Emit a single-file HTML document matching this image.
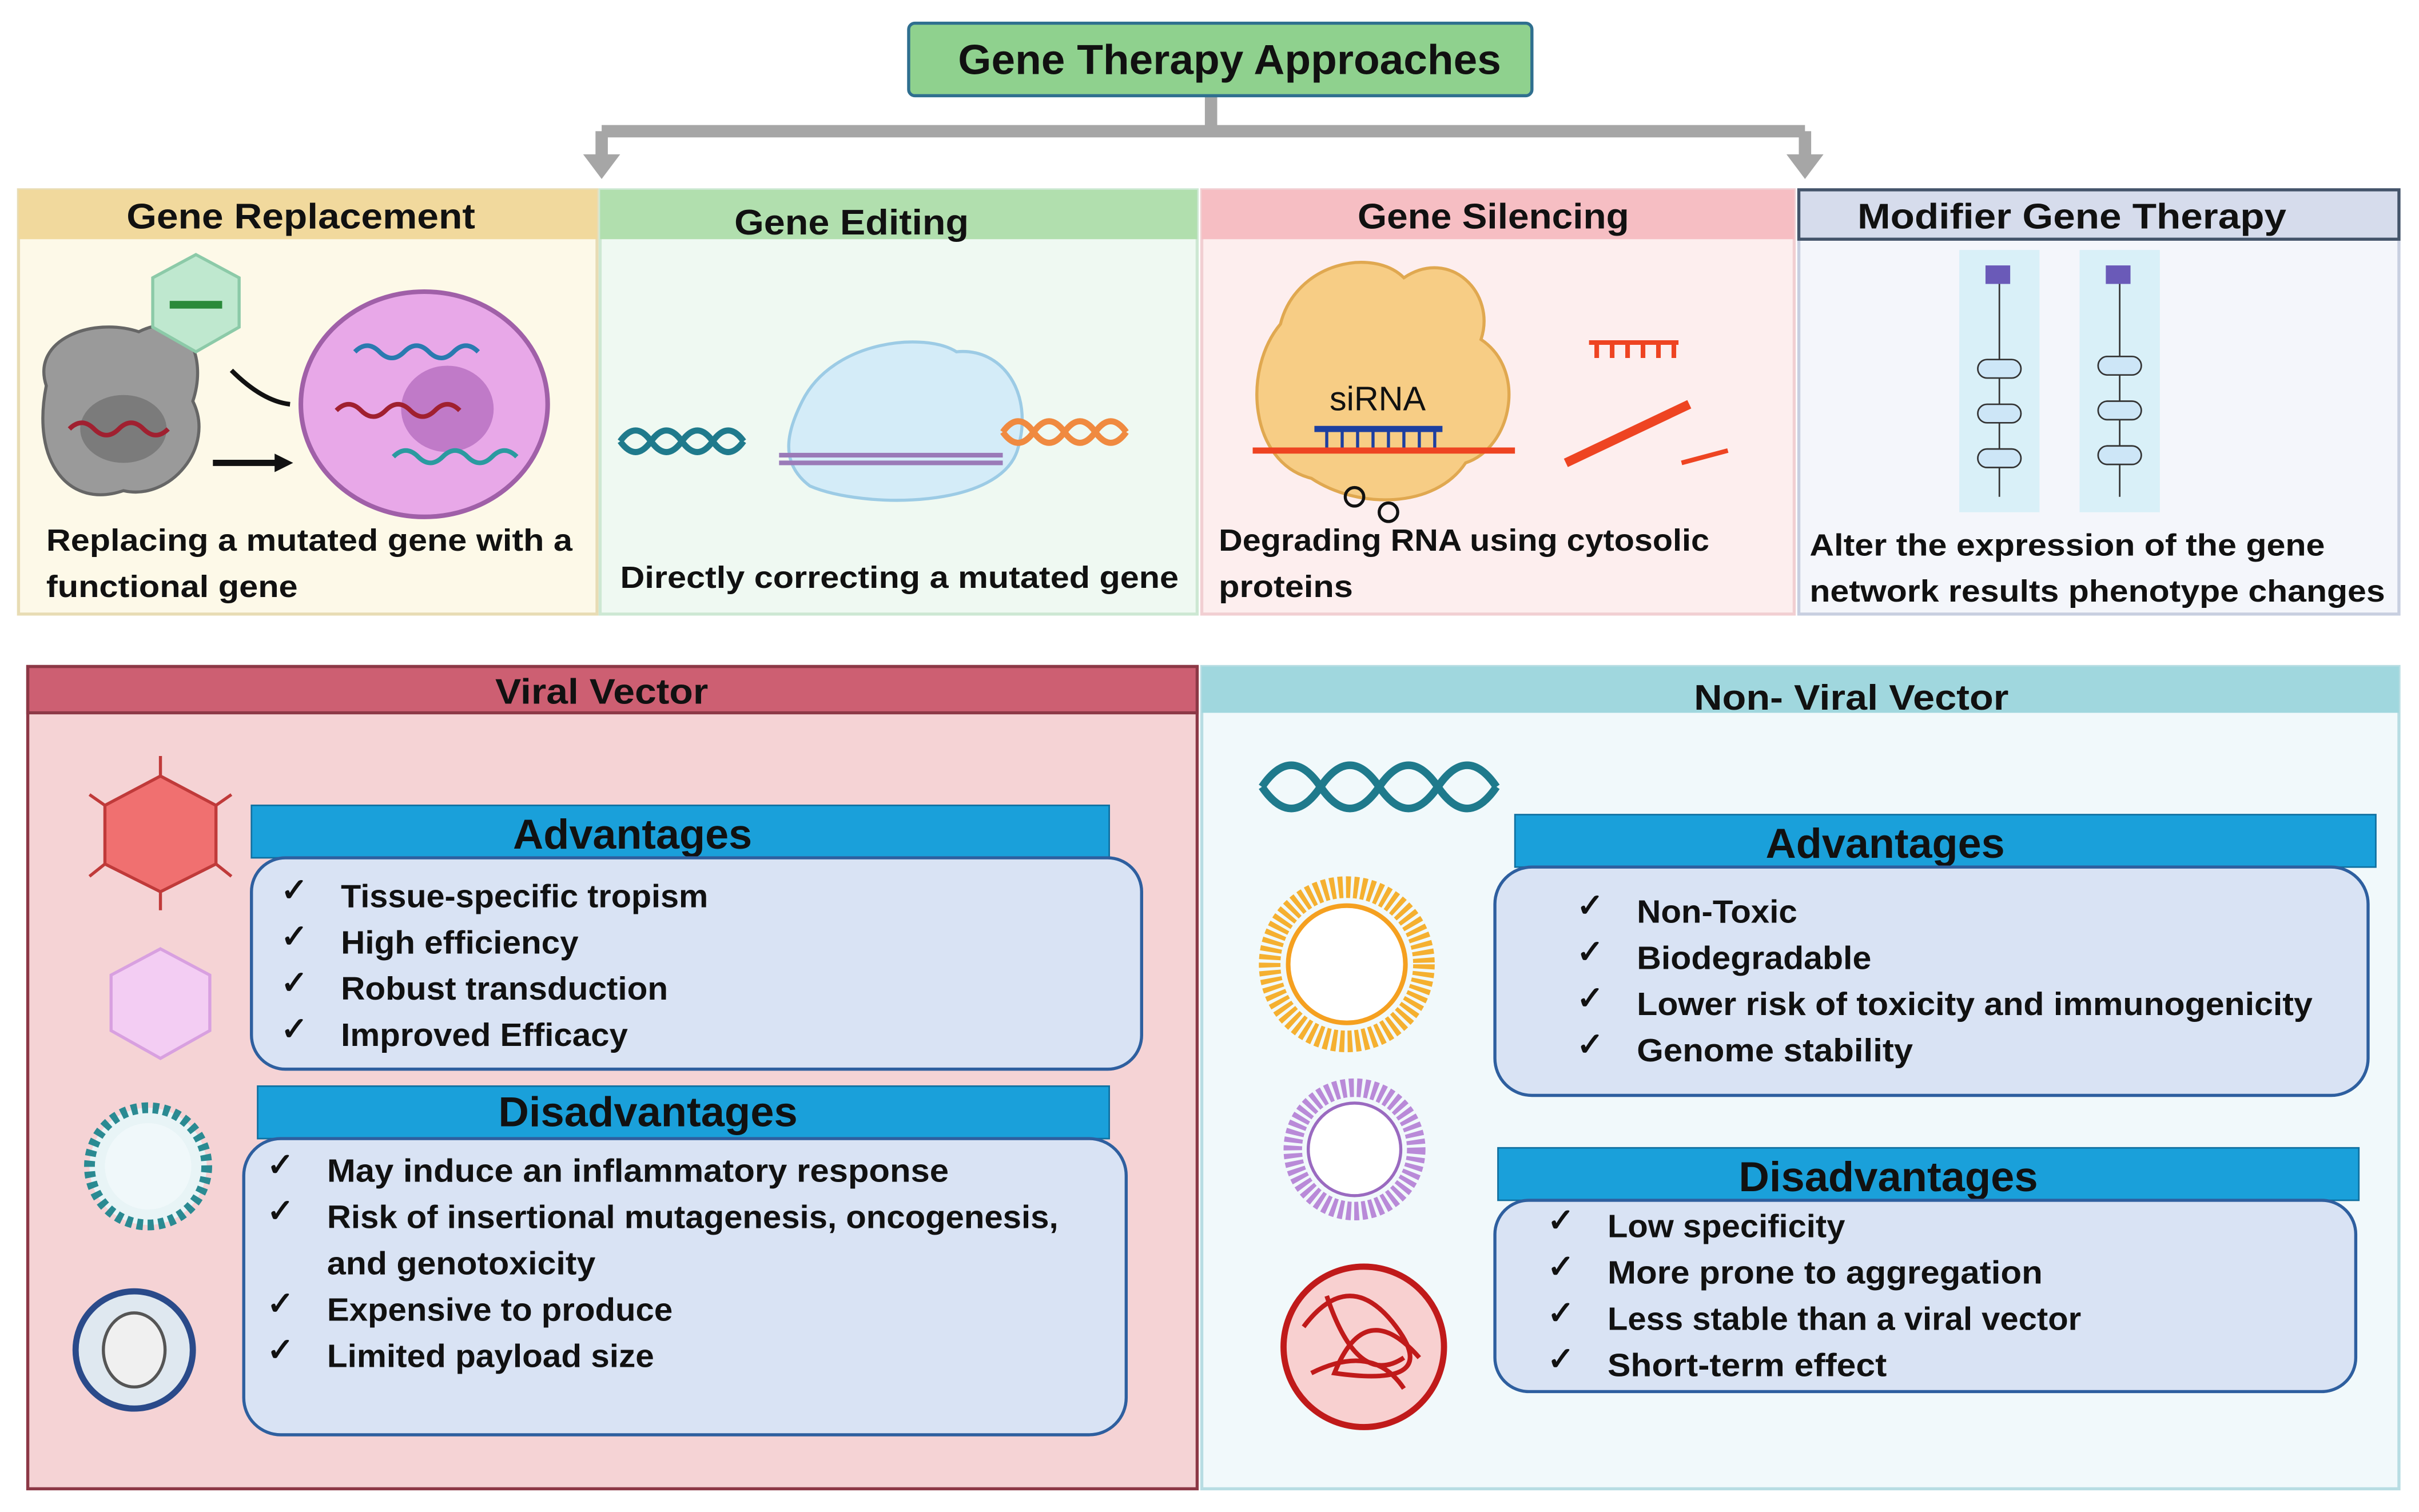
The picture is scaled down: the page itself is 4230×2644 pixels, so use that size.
<!DOCTYPE html>
<html><head><meta charset="utf-8"><style>
html,body{margin:0;padding:0;background:#fff;}
svg{display:block;}
text{font-family:"Liberation Sans",sans-serif;font-weight:bold;fill:#111;}
</style></head><body>
<svg width="4230" height="2644" viewBox="0 0 1568 980" xmlns="http://www.w3.org/2000/svg">
<!-- connector -->
<path d="M785,62 V85 M390,85 H1170" stroke="#a6a6a6" stroke-width="8" fill="none"/>
<path d="M390,85 V102" stroke="#a6a6a6" stroke-width="8" fill="none"/>
<path d="M1170,85 V102" stroke="#a6a6a6" stroke-width="8" fill="none"/>
<path d="M378,100 L402,100 L390,116 z" fill="#a6a6a6"/>
<path d="M1158,100 L1182,100 L1170,116 z" fill="#a6a6a6"/>
<!-- top box -->
<rect x="589" y="15" width="404" height="47" rx="4" fill="#8fd18e" stroke="#2f6f8f" stroke-width="2"/>
<text x="797" y="48" font-size="27" text-anchor="middle" textLength="352" lengthAdjust="spacingAndGlyphs">Gene Therapy Approaches</text>

<!-- panels -->
<rect x="12" y="123" width="375" height="275" fill="#fdf9e8" stroke="#e8dcb4" stroke-width="2"/>
<rect x="12" y="123" width="375" height="32" fill="#f1d99d"/>
<text x="195" y="148" font-size="23" text-anchor="middle" textLength="226" lengthAdjust="spacingAndGlyphs">Gene Replacement</text>
<rect x="389" y="123" width="387" height="275" fill="#eff9f2" stroke="#cde8d3" stroke-width="2"/>
<rect x="389" y="123" width="387" height="32" fill="#b1dfae"/>
<text x="552" y="152" font-size="23" text-anchor="middle" textLength="152" lengthAdjust="spacingAndGlyphs">Gene Editing</text>
<rect x="779" y="123" width="384" height="275" fill="#fdeeee" stroke="#f1cfd2" stroke-width="2"/>
<rect x="779" y="123" width="384" height="32" fill="#f6bec3"/>
<text x="968" y="148" font-size="23" text-anchor="middle" textLength="176" lengthAdjust="spacingAndGlyphs">Gene Silencing</text>
<rect x="1166" y="123" width="389" height="275" fill="#f4f6fb" stroke="#c8cfe0" stroke-width="2"/>
<rect x="1166" y="123" width="389" height="32" fill="#d6dcec" stroke="#44546a" stroke-width="2"/>
<text x="1343" y="148" font-size="23" text-anchor="middle" textLength="278" lengthAdjust="spacingAndGlyphs">Modifier Gene Therapy</text>

<!-- panel 1 art -->
<path d="M30,250 C20,220 60,205 90,215 C120,200 135,230 125,260 C140,290 110,325 80,318 C45,330 20,300 30,250z" fill="#9a9a9a" stroke="#666" stroke-width="2"/>
<ellipse cx="80" cy="278" rx="28" ry="22" fill="#7b7b7b"/>
<path d="M45,278 q8,-8 16,0 t16,0 t16,0 t16,0" stroke="#a02030" stroke-width="3" fill="none"/>
<polygon points="127,165 155,180 155,212 127,228 99,212 99,180" fill="#bfe8cf" stroke="#8ccaa8" stroke-width="2"/>
<rect x="110" y="195" width="34" height="5" fill="#2a8a3a"/>
<ellipse cx="275" cy="262" rx="80" ry="73" fill="#e8a8e8" stroke="#a060a8" stroke-width="3"/>
<ellipse cx="290" cy="265" rx="30" ry="28" fill="#c07ac8"/>
<path d="M230,228 q8,-8 16,0 t16,0 t16,0 t16,0 t16,0" stroke="#2a7ab0" stroke-width="3" fill="none"/>
<path d="M218,266 q8,-8 16,0 t16,0 t16,0 t16,0 t16,0" stroke="#a02030" stroke-width="3" fill="none"/>
<path d="M255,296 q8,-8 16,0 t16,0 t16,0 t16,0 t16,0" stroke="#2a9aa0" stroke-width="3" fill="none"/>
<path d="M150,240 q20,20 38,22" stroke="#111" stroke-width="3" fill="none"/>
<path d="M138,300 H180" stroke="#111" stroke-width="4"/><path d="M178,294 L190,300 L178,306z" fill="#111"/>
<text x="30" y="357" font-size="20" textLength="341" lengthAdjust="spacingAndGlyphs">Replacing a mutated gene with a</text>
<text x="30" y="387" font-size="20" textLength="163" lengthAdjust="spacingAndGlyphs">functional gene</text>

<!-- panel 2 art -->
<path d="M402,286 q10,-14 20,0 t20,0 t20,0 t20,0" stroke="#1f7a8c" stroke-width="4" fill="none"/>
<path d="M402,286 q10,14 20,0 t20,0 t20,0 t20,0" stroke="#1f7a8c" stroke-width="4" fill="none"/>
<path d="M520,260 C540,220 600,215 620,228 C650,225 670,255 660,290 C650,330 560,330 525,315 C505,300 510,280 520,260z" fill="#d4ecf8" stroke="#9ccbe5" stroke-width="2"/>
<path d="M505,295 H650 M505,300 H650" stroke="#9a7ab8" stroke-width="3"/>
<path d="M650,280 q10,-14 20,0 t20,0 t20,0 t20,0" stroke="#f08a40" stroke-width="4" fill="none"/>
<path d="M650,280 q10,14 20,0 t20,0 t20,0 t20,0" stroke="#f08a40" stroke-width="4" fill="none"/>
<text x="402" y="381" font-size="20" textLength="362" lengthAdjust="spacingAndGlyphs">Directly correcting a mutated gene</text>

<!-- panel 3 art -->
<path d="M830,210 C840,170 890,160 910,180 C940,160 970,190 960,220 C990,240 980,290 950,300 C930,330 880,330 850,310 C810,300 805,240 830,210z" fill="#f7cd85" stroke="#e0a850" stroke-width="2"/>
<text x="893" y="266" font-size="22" text-anchor="middle" style="font-weight:normal">siRNA</text>
<path d="M852,278 H935" stroke="#1d3fa0" stroke-width="4"/>
<path d="M812,292 H982" stroke="#ee4422" stroke-width="4"/>
<path d="M860,278 V290 M870,278 V290 M880,278 V290 M890,278 V290 M900,278 V290 M910,278 V290 M920,278 V290 M930,278 V290" stroke="#1d3fa0" stroke-width="2"/>
<path d="M1030,222 H1088 M1035,222 V232 M1045,222 V232 M1055,222 V232 M1065,222 V232 M1075,222 V232 M1085,222 V232" stroke="#ee4422" stroke-width="3"/>
<path d="M1015,300 L1095,262" stroke="#ee4422" stroke-width="6"/>
<path d="M1090,300 L1120,292" stroke="#ee4422" stroke-width="3"/>
<circle cx="878" cy="322" r="6" fill="none" stroke="#111" stroke-width="2"/><circle cx="900" cy="332" r="6" fill="none" stroke="#111" stroke-width="2"/>
<text x="790" y="357" font-size="20" textLength="318" lengthAdjust="spacingAndGlyphs">Degrading RNA using cytosolic</text>
<text x="790" y="387" font-size="20" textLength="87" lengthAdjust="spacingAndGlyphs">proteins</text>

<!-- panel 4 art -->
<rect x="1270" y="162" width="52" height="170" fill="#d9f0f8"/>
<rect x="1348" y="162" width="52" height="170" fill="#d9f0f8"/>
<g stroke="#333" stroke-width="1" fill="#cde6f7">
<path d="M1296,180 V322 M1374,180 V322"/>
<rect x="1282" y="233" width="28" height="12" rx="6"/><rect x="1282" y="262" width="28" height="12" rx="6"/><rect x="1282" y="291" width="28" height="12" rx="6"/>
<rect x="1360" y="231" width="28" height="12" rx="6"/><rect x="1360" y="260" width="28" height="12" rx="6"/><rect x="1360" y="289" width="28" height="12" rx="6"/>
</g>
<rect x="1287" y="172" width="16" height="12" fill="#6a5ab8"/><rect x="1365" y="172" width="16" height="12" fill="#6a5ab8"/>
<text x="1173" y="360" font-size="20" textLength="334" lengthAdjust="spacingAndGlyphs">Alter the expression of the gene</text>
<text x="1173" y="390" font-size="20" textLength="373" lengthAdjust="spacingAndGlyphs">network results phenotype changes</text>

<!-- Viral vector -->
<rect x="18" y="432" width="758" height="533" fill="#f5d3d5" stroke="#8c3846" stroke-width="2"/>
<rect x="18" y="432" width="758" height="30" fill="#cd5f72" stroke="#8c3846" stroke-width="2"/>
<text x="390" y="456" font-size="23" text-anchor="middle" textLength="138" lengthAdjust="spacingAndGlyphs">Viral Vector</text>
<polygon points="104,503 140,522 140,560 104,578 68,560 68,522" fill="#f07070" stroke="#c03a3a" stroke-width="2"/>
<g stroke="#c03a3a" stroke-width="2"><path d="M104,503V490M140,522L150,515M140,560L150,568M104,578V590M68,560L58,568M68,522L58,515"/></g>
<polygon points="104,615 136,632 136,668 104,686 72,668 72,632" fill="#f3cdf3" stroke="#d8a0e0" stroke-width="2"/>
<circle cx="96" cy="756" r="38" fill="#e8f4f6" stroke="#2a8a92" stroke-width="7" stroke-dasharray="4 3"/>
<circle cx="96" cy="756" r="28" fill="#f0f8fa"/>
<circle cx="87" cy="875" r="38" fill="#dfe8f0" stroke="#2a4a8a" stroke-width="4"/>
<ellipse cx="87" cy="875" rx="20" ry="24" fill="#f0f0f0" stroke="#555" stroke-width="2"/>
<rect x="163" y="522" width="556" height="34" fill="#1aa0da" stroke="#1070a0" stroke-width="1"/>
<text x="410" y="550" font-size="27" text-anchor="middle" textLength="155" lengthAdjust="spacingAndGlyphs">Advantages</text>
<rect x="163" y="556" width="577" height="137" rx="22" fill="#d9e3f4" stroke="#2e5f9f" stroke-width="2"/>
<g font-size="21">
<text x="182" y="584">✓</text><text x="221" y="588" textLength="238" lengthAdjust="spacingAndGlyphs">Tissue-specific tropism</text>
<text x="182" y="614">✓</text><text x="221" y="618" textLength="154" lengthAdjust="spacingAndGlyphs">High efficiency</text>
<text x="182" y="644">✓</text><text x="221" y="648" textLength="212" lengthAdjust="spacingAndGlyphs">Robust transduction</text>
<text x="182" y="674">✓</text><text x="221" y="678" textLength="186" lengthAdjust="spacingAndGlyphs">Improved Efficacy</text>
</g>
<rect x="167" y="704" width="552" height="34" fill="#1aa0da" stroke="#1070a0" stroke-width="1"/>
<text x="420" y="730" font-size="27" text-anchor="middle" textLength="194" lengthAdjust="spacingAndGlyphs">Disadvantages</text>
<rect x="158" y="738" width="572" height="192" rx="24" fill="#d9e3f4" stroke="#2e5f9f" stroke-width="2"/>
<g font-size="21">
<text x="173" y="762">✓</text><text x="212" y="766" textLength="403" lengthAdjust="spacingAndGlyphs">May induce an inflammatory response</text>
<text x="173" y="792">✓</text><text x="212" y="796" textLength="474" lengthAdjust="spacingAndGlyphs">Risk of insertional mutagenesis, oncogenesis,</text>
<text x="212" y="826" textLength="174" lengthAdjust="spacingAndGlyphs">and genotoxicity</text>
<text x="173" y="852">✓</text><text x="212" y="856" textLength="224" lengthAdjust="spacingAndGlyphs">Expensive to produce</text>
<text x="173" y="882">✓</text><text x="212" y="886" textLength="212" lengthAdjust="spacingAndGlyphs">Limited payload size</text>
</g>

<!-- Non viral -->
<rect x="779" y="432" width="776" height="533" fill="#f1f9fb" stroke="#b8dde3" stroke-width="2"/>
<rect x="779" y="432" width="776" height="30" fill="#a0d7de"/>
<text x="1200" y="460" font-size="23" text-anchor="middle" textLength="204" lengthAdjust="spacingAndGlyphs">Non- Viral Vector</text>
<path d="M818,510 q19,-28 38,0 t38,0 t38,0 t38,0" stroke="#1f7a8c" stroke-width="5" fill="none"/>
<path d="M818,510 q19,28 38,0 t38,0 t38,0 t38,0" stroke="#1f7a8c" stroke-width="5" fill="none"/>
<circle cx="873" cy="625" r="50" fill="none" stroke="#f5b030" stroke-width="14" stroke-dasharray="3 2"/>
<circle cx="873" cy="625" r="38" fill="#fff" stroke="#f5a020" stroke-width="3"/>
<circle cx="878" cy="745" r="40" fill="none" stroke="#b98ad8" stroke-width="12" stroke-dasharray="3 2"/>
<circle cx="878" cy="745" r="30" fill="#fff" stroke="#9a6ac0" stroke-width="2"/>
<circle cx="884" cy="873" r="52" fill="#f8d0d0" stroke="#c01a1a" stroke-width="4"/>
<path d="M845,860 q30,-40 60,0 t-40,30 q20,-50 55,-10 M850,890 q40,-20 60,10 M860,840 q20,60 50,40" stroke="#c01a1a" stroke-width="3" fill="none"/>
<rect x="982" y="528" width="558" height="34" fill="#1aa0da" stroke="#1070a0" stroke-width="1"/>
<text x="1222" y="556" font-size="27" text-anchor="middle" textLength="155" lengthAdjust="spacingAndGlyphs">Advantages</text>
<rect x="969" y="562" width="566" height="148" rx="24" fill="#d9e3f4" stroke="#2e5f9f" stroke-width="2"/>
<g font-size="21">
<text x="1022" y="594">✓</text><text x="1061" y="598" textLength="104" lengthAdjust="spacingAndGlyphs">Non-Toxic</text>
<text x="1022" y="624">✓</text><text x="1061" y="628" textLength="152" lengthAdjust="spacingAndGlyphs">Biodegradable</text>
<text x="1022" y="654">✓</text><text x="1061" y="658" textLength="438" lengthAdjust="spacingAndGlyphs">Lower risk of toxicity and immunogenicity</text>
<text x="1022" y="684">✓</text><text x="1061" y="688" textLength="179" lengthAdjust="spacingAndGlyphs">Genome stability</text>
</g>
<rect x="971" y="744" width="558" height="34" fill="#1aa0da" stroke="#1070a0" stroke-width="1"/>
<text x="1224" y="772" font-size="27" text-anchor="middle" textLength="194" lengthAdjust="spacingAndGlyphs">Disadvantages</text>
<rect x="969" y="778" width="558" height="124" rx="22" fill="#d9e3f4" stroke="#2e5f9f" stroke-width="2"/>
<g font-size="21">
<text x="1003" y="798">✓</text><text x="1042" y="802" textLength="154" lengthAdjust="spacingAndGlyphs">Low specificity</text>
<text x="1003" y="828">✓</text><text x="1042" y="832" textLength="282" lengthAdjust="spacingAndGlyphs">More prone to aggregation</text>
<text x="1003" y="858">✓</text><text x="1042" y="862" textLength="307" lengthAdjust="spacingAndGlyphs">Less stable than a viral vector</text>
<text x="1003" y="888">✓</text><text x="1042" y="892" textLength="181" lengthAdjust="spacingAndGlyphs">Short-term effect</text>
</g>
</svg>
</body></html>
